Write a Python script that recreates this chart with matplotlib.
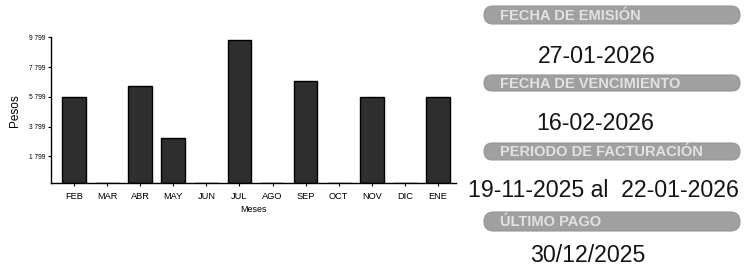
import matplotlib
matplotlib.use("Agg")
import matplotlib.pyplot as plt
from matplotlib.patches import FancyBboxPatch

months = ["FEB", "MAR", "ABR", "MAY", "JUN", "JUL", "AGO", "SEP", "OCT", "NOV", "DIC", "ENE"]
pesos = [5800, 0, 6510, 3050, 0, 9620, 0, 6850, 0, 5800, 0, 5770]
yticks = [1799, 3799, 5799, 7799, 9799]
ytick_labels = ["1 799", "3 799", "5 799", "7 799", "9 799"]

box_labels = ["FECHA DE EMISIÓN", "FECHA DE VENCIMIENTO", "PERIODO DE FACTURACIÓN", "ÚLTIMO PAGO"]
box_values = ["27-01-2026", "16-02-2026", "19-11-2025 al  22-01-2026", "30/12/2025"]

plt.rcParams['font.family'] = ['Liberation Sans', 'DejaVu Sans']

W, H = 749, 267
fig = plt.figure(figsize=(W / 100, H / 100), dpi=100)

# chart axes (pixel geometry converted to figure fractions)
ax_left, ax_right, ax_top, ax_bottom = 51, 456, 37.3, 183.3
ax = fig.add_axes([ax_left / W, 1 - ax_bottom / H, (ax_right - ax_left) / W, (ax_bottom - ax_top) / H])
x = list(range(len(months)))
ax.bar(x, pesos, width=0.72, color="#2e2e2e", edgecolor="#000000", linewidth=1.0)
ax.set_xlim(-0.7, 11.55)
ax.set_ylim(0, 9799)
ax.set_xticks(x)
ax.set_xticklabels(months, fontsize=6.7)
ax.set_yticks(yticks)
ax.set_yticklabels(ytick_labels, fontsize=4.8)
ax.tick_params(axis='x', length=2.5, width=0.8, pad=3.5)
ax.tick_params(axis='y', length=2.5, width=0.8, pad=1.5)
for s in ("top", "right"):
    ax.spines[s].set_visible(False)
for s in ("left", "bottom"):
    ax.spines[s].set_linewidth(1.0)
ax.set_xlabel("Meses", fontsize=6.5, labelpad=3.5)
ax.set_ylabel("Pesos", fontsize=8.5, labelpad=6)

# overlay in pixel coordinates for the info panel
ov = fig.add_axes([0, 0, 1, 1], zorder=5)
ov.set_xlim(0, W)
ov.set_ylim(H, 0)
ov.axis("off")
ov.patch.set_alpha(0)

box_y = [(6, 24), (75, 91), (143, 160), (212, 231)]
box_x0, box_x1 = 484, 740
value_pos = [(597, 63), (595, 130), (603, 197), (588, 262)]

for (y0, y1), lab in zip(box_y, box_labels):
    h = y1 - y0
    ov.add_patch(FancyBboxPatch((box_x0, y0), box_x1 - box_x0, h,
                                boxstyle=f"round,pad=0,rounding_size={h/2}",
                                facecolor="#a0a0a0", edgecolor="#959595", linewidth=0.8))
    ov.text(500, (y0 + y1) / 2 + 0.5, lab, fontsize=10.5, fontweight="bold",
            color="#e2e2e2", ha="left", va="center")

for (cx, by), val in zip(value_pos, box_values):
    ov.text(cx, by, val, fontsize=16.7, color="#141414", ha="center", va="baseline")

fig.savefig("out.png", dpi=100)
